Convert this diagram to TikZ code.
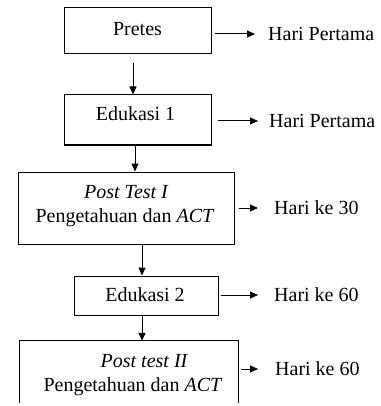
\documentclass[tikz,border=0pt]{standalone}
\usepackage{fontspec}
\setmainfont{Liberation Serif}
\usetikzlibrary{arrows.meta,calc}
\begin{document}
\begin{tikzpicture}[x=1pt,y=-1pt,
  box/.style={draw, line width=1pt, rectangle, inner sep=0pt},
  txt/.style={inner sep=0pt, font=\fontsize{20}{24}\selectfont},
  arr/.style={line width=1pt, -{Triangle[length=8pt,width=7pt]}}]
\useasboundingbox (0,0) rectangle (380,406);
% boxes
\node[box, minimum width=147pt, minimum height=46pt] (b1) at (137.5,31) {};
\node[box, minimum width=147pt, minimum height=50pt] (b2) at (137.5,120) {};
\node[box, minimum width=216pt, minimum height=72pt] (b3) at (126,208) {};
\node[box, minimum width=144pt, minimum height=39pt] (b4) at (146,295.5) {};
\node[rectangle, inner sep=0pt, minimum width=218pt, minimum height=62pt] (b5) at (129,372) {};
\draw[line width=1pt] (b5.south west) -- (b5.north west) -- (b5.north east) -- (b5.south east);
% box texts
\node[txt] (t1) at (137.5,29) {Pretes};
\node[txt] (t2) at (135.5,114) {Edukasi 1};
\node[txt] (t3a) at (126,192) {\itshape Post Test I};
\node[txt] (t3b) at (125,218) {Pengetahuan dan \textit{ACT}};
\node[txt] (t4) at (145,295) {Edukasi 2};
\node[txt] (t5a) at (144,361) {\itshape Post test II};
\node[txt] (t5b) at (133,387) {Pengetahuan dan \textit{ACT}};
% right labels
\node[txt, anchor=west] (l1) at (268,34) {Hari Pertama};
\node[txt, anchor=west] (l2) at (269,121) {Hari Pertama};
\node[txt, anchor=west] (l3) at (274,208) {Hari ke 30};
\node[txt, anchor=west] (l4) at (274,295) {Hari ke 60};
\node[txt, anchor=west] (l5) at (275,369) {Hari ke 60};
% down arrows
\draw[arr] ([xshift=-4.5pt,yshift=-9pt]b1.south) -- ([xshift=-4.5pt]b2.north);
\draw[arr] ([xshift=-2.5pt]b2.south) -- ([xshift=9pt]b3.north);
\draw[arr] ([xshift=16pt]b3.south) -- ([xshift=-4pt]b4.north);
\draw[arr] ([xshift=-4pt]b4.south) -- ([xshift=13pt]b5.north);
% right arrows
\draw[arr] ([xshift=3pt]b1.east |- l1.west) -- ([xshift=-13pt]l1.west);
\draw[arr] ([xshift=6pt]b2.east |- l2.west) -- ([xshift=-11pt]l2.west);
\draw[arr] ([xshift=4pt]b3.east |- l3.west) -- ([xshift=-16pt]l3.west);
\draw[arr] ([xshift=2pt]b4.east |- l4.west) -- ([xshift=-16pt]l4.west);
\draw[arr] ([xshift=3pt]b5.east |- l5.west) -- ([xshift=-17pt]l5.west);
\end{tikzpicture}
\end{document}
